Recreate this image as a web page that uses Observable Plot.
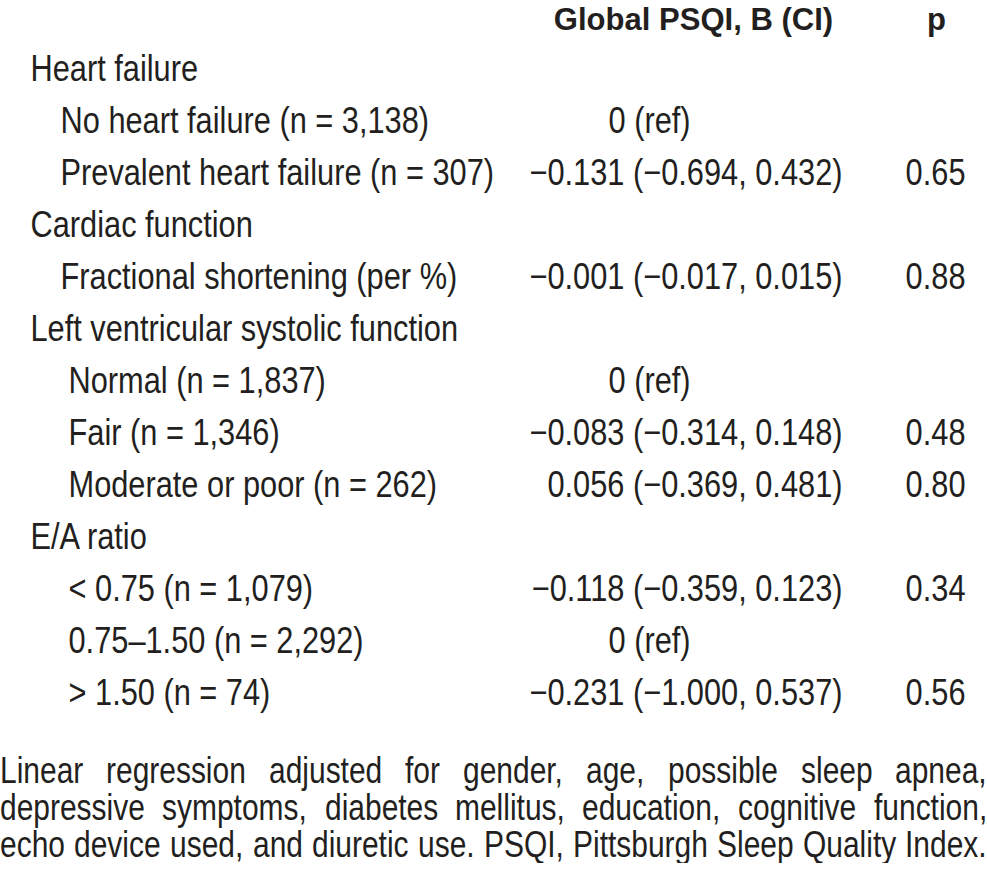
<!DOCTYPE html>
<html>
<head>
<meta charset="utf-8">
<script src="https://cdn.jsdelivr.net/npm/d3@7"></script>
<script src="https://cdn.jsdelivr.net/npm/@observablehq/plot@0.6"></script>
<style>
  body { margin: 0; background: #fff; overflow: hidden; }
  #cap { width: 987px; margin-top: 22px; color: #231f20;
         font-family: "Liberation Sans", Arial, sans-serif; font-size: 36px; }
  .capline { display: flex; justify-content: space-between; width: 987px; height: 37px; line-height: 37px; }
  .w { display: inline-block; white-space: nowrap; }
  .w > span { display: inline-block; white-space: nowrap; transform-origin: 0 50%; }
</style>
</head>
<body>
<div id="chart"></div>
<div id="cap"></div>
<script>
// ---- data ----
const headers = ["Global PSQI, B (CI)", "p"];
const rowLabels = [
  "Heart failure",
  "No heart failure (n = 3,138)",
  "Prevalent heart failure (n = 307)",
  "Cardiac function",
  "Fractional shortening (per %)",
  "Left ventricular systolic function",
  "Normal (n = 1,837)",
  "Fair (n = 1,346)",
  "Moderate or poor (n = 262)",
  "E/A ratio",
  "< 0.75 (n = 1,079)",
  "0.75–1.50 (n = 2,292)",
  "> 1.50 (n = 74)"
];
const rowLevel = ["group","item","item","group","item","group","sub","sub","sub","group","sub","sub","sub"];
const estimates = [
  "", "0 (ref)", "−0.131 (−0.694, 0.432)", "", "−0.001 (−0.017, 0.015)", "",
  "0 (ref)", "−0.083 (−0.314, 0.148)", "0.056 (−0.369, 0.481)", "",
  "−0.118 (−0.359, 0.123)", "0 (ref)", "−0.231 (−1.000, 0.537)"
];
const pValues = ["", "", "0.65", "", "0.88", "", "", "0.48", "0.80", "", "0.34", "", "0.56"];
const captionLines = [
  "Linear regression adjusted for gender, age, possible sleep apnea,",
  "depressive symptoms, diabetes mellitus, education, cognitive function,",
  "echo device used, and diuretic use. PSQI, Pittsburgh Sleep Quality Index."
];

// ---- layout (column anchors in px) ----
const col = { group: 30, item: 60, sub: 68, refStart: 608, estEnd: 842, pEnd: 965, hdrB: 693, hdrP: 936 };
const FONT = '"Liberation Sans", Arial, sans-serif';
const FS = 37;       // body text
const HFS = 32;      // header text
const SX = 0.832;    // horizontal condensing (body) to mimic a narrow face
const HSX = 0.97;    // horizontal condensing (header)
const INK = "#231f20";

const rows = rowLabels.map((label, i) => ({
  row: i, label, level: rowLevel[i], est: estimates[i], p: pValues[i],
  isRef: estimates[i].includes("ref")
}));

const chart = Plot.plot({
  width: 987,
  height: 730,
  margin: 0,
  style: { fontFamily: FONT, color: INK, background: "#fff", overflow: "visible" },
  x: { type: "linear", domain: [0, 987], range: [0, 987], axis: null },
  y: { type: "linear", domain: [-1, 12], range: [17, 693], axis: null },
  marks: [
    Plot.text([headers[0]], { x: () => col.hdrB, y: () => -1, dy: 2, text: d => d, fontSize: HFS, fontWeight: "bold", fill: INK, textAnchor: "middle", className: "hdr" }),
    Plot.text([headers[1]], { x: () => col.hdrP, y: () => -1, dy: 2, text: d => d, fontSize: HFS, fontWeight: "bold", fill: INK, textAnchor: "middle", className: "hdr" }),
    Plot.text(rows, { x: d => col[d.level], y: "row", text: "label", fontSize: FS, fill: INK, textAnchor: "start" }),
    Plot.text(rows.filter(d => d.est && !d.isRef), { x: () => col.estEnd, y: "row", text: "est", fontSize: FS, fill: INK, textAnchor: "end" }),
    Plot.text(rows.filter(d => d.isRef), { x: () => col.refStart, y: "row", text: "est", fontSize: FS, fill: INK, textAnchor: "start" }),
    Plot.text(rows.filter(d => d.p), { x: () => col.pEnd, y: "row", text: "p", fontSize: FS, fill: INK, textAnchor: "end" })
  ]
});

// condense each text horizontally around its own anchor point
chart.querySelectorAll("text").forEach(t => {
  const s = t.closest(".hdr") ? HSX : SX;
  const tr = t.getAttribute("transform");
  if (tr && /translate/.test(tr) && !t.hasAttribute("x")) {
    t.setAttribute("transform", tr + ` scale(${s},1)`);
  } else {
    const x = +t.getAttribute("x") || 0;
    t.setAttribute("transform", (tr ? tr + " " : "") + `translate(${x},0) scale(${s},1) translate(${-x},0)`);
  }
});
document.getElementById("chart").appendChild(chart);

// caption: fully justified lines, words condensed the same way
const ctx = document.createElement("canvas").getContext("2d");
ctx.font = `36px ${FONT}`;
const maxW = Math.max(...captionLines.map(s => ctx.measureText(s).width));
const csx = Math.min(SX, 985 / maxW);
const cap = document.getElementById("cap");
captionLines.forEach(line => {
  const div = document.createElement("div");
  div.className = "capline";
  line.split(" ").forEach(word => {
    const outer = document.createElement("span");
    outer.className = "w";
    outer.style.width = (ctx.measureText(word).width * csx) + "px";
    const inner = document.createElement("span");
    inner.textContent = word;
    inner.style.transform = `scaleX(${csx})`;
    outer.appendChild(inner);
    div.appendChild(outer);
  });
  cap.appendChild(div);
});
</script>
</body>
</html>
